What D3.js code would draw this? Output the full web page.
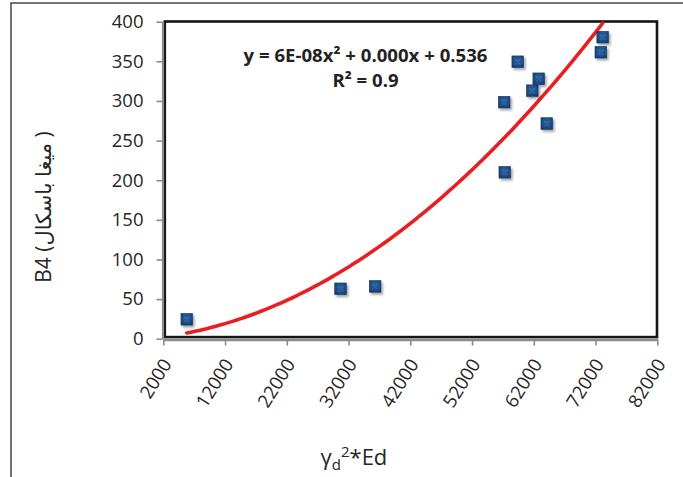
<!DOCTYPE html>
<html>
<head>
<meta charset="utf-8">
<script src="https://cdn.jsdelivr.net/npm/d3@7"></script>
<style>
  html, body { margin: 0; padding: 0; background: #fff; }
  svg { display: block; }
  text { font-family: "Open Sans", "DejaVu Sans", sans-serif; }
</style>
</head>
<body>
<svg id="chart" width="683" height="477"></svg>
<script>
// Measured samples: x = γd²·Ed, y = B4 (MPa)
const xValues = [5800, 30700, 36300, 57200, 57300, 59400, 62800, 61750, 64100, 73150, 72850];
const yValues = [24.5, 63, 66, 298.5, 210, 349.5, 328, 313, 271.5, 380.5, 361.5];

// Axis ticks
const xTicks = [2000, 12000, 22000, 32000, 42000, 52000, 62000, 72000, 82000];
const yTicks = [0, 50, 100, 150, 200, 250, 300, 350, 400];

// Polynomial (order 2) trendline coefficients: y = a·x² + b·x + c
const trendCoeffs = [6.37e-8, 0.000775, 0.536];
const trendLabel = ["y = 6E-08x² + 0.000x + 0.536", "R² = 0.9"];

const xTitle = { base: "γ", sub: "d", sup: "2", rest: "*Ed" };
const yTitle = "B4 (میغا باسکال )";

const svg = d3.select("#chart");
const plot = { left: 162.5, right: 657.3, top: 21.7, bottom: 338.7 };

const x = d3.scaleLinear().domain([2000, 82000]).range([163.3, 657.3]);
const y = d3.scaleLinear().domain([0, 400]).range([plot.bottom, plot.top]);

// outer chart frame
svg.append("rect")
  .attr("x", 11).attr("y", 3)
  .attr("width", 700).attr("height", 500)
  .attr("fill", "#fff").attr("stroke", "#3b3b3b").attr("stroke-width", 1.4);

const defs = svg.append("defs");
const grad = defs.append("radialGradient").attr("id", "mk").attr("cx", "50%").attr("cy", "40%").attr("r", "70%");
grad.append("stop").attr("offset", "0%").attr("stop-color", "#2f659f");
grad.append("stop").attr("offset", "60%").attr("stop-color", "#1d4d86");
grad.append("stop").attr("offset", "100%").attr("stop-color", "#113865");
const shadow = defs.append("filter").attr("id", "shadow").attr("x", "-50%").attr("y", "-50%").attr("width", "200%").attr("height", "200%");
shadow.append("feDropShadow").attr("dx", 1.8).attr("dy", 2.2).attr("stdDeviation", 1.1)
  .attr("flood-color", "#000").attr("flood-opacity", 0.35);
defs.append("clipPath").attr("id", "plotClip").append("rect")
  .attr("x", plot.left).attr("y", plot.top - 1)
  .attr("width", plot.right - plot.left).attr("height", plot.bottom - plot.top + 1);

// plot-area border
svg.append("rect")
  .attr("x", 164.8).attr("y", 21.5)
  .attr("width", 492.2).attr("height", 315.6)
  .attr("fill", "none").attr("stroke", "#141414").attr("stroke-width", 2.6);

// axes
const axisColor = "#8a8a8a";
const yAxis = svg.append("g")
  .attr("transform", `translate(${plot.left},0)`)
  .call(d3.axisLeft(y).tickValues(yTicks).tickSize(6).tickPadding(13).tickSizeOuter(0));
const xAxis = svg.append("g")
  .attr("transform", `translate(0,339.6)`)
  .call(d3.axisBottom(x).tickValues(xTicks).tickSize(6).tickFormat(d3.format("d")).tickSizeOuter(0));

[yAxis, xAxis].forEach(g => {
  g.select(".domain").attr("stroke", axisColor).attr("stroke-width", 2.2);
  g.selectAll(".tick line").attr("stroke", axisColor).attr("stroke-width", 1.6);
  g.selectAll(".tick text").attr("fill", "#262626").style("font-size", "18.5px")
    .style("font-family", "'Open Sans', sans-serif");
});
xAxis.selectAll(".tick text")
  .attr("text-anchor", "end")
  .attr("dy", "0.35em")
  .attr("y", 0)
  .attr("transform", "translate(3,21) rotate(-58)");

// trendline
const [a, b, c] = trendCoeffs;
const [xMin, xMax] = d3.extent(xValues);
const curvePts = d3.range(0, 101).map(i => {
  const xv = xMin + (xMax - xMin) * i / 100;
  return [xv, a * xv * xv + b * xv + c];
});
svg.append("path")
  .datum(curvePts)
  .attr("clip-path", "url(#plotClip)")
  .attr("fill", "none")
  .attr("stroke", "#ea1e22")
  .attr("stroke-width", 3.6)
  .attr("stroke-linecap", "round")
  .attr("d", d3.line().x(d => x(d[0])).y(d => y(d[1])));

// markers
const pts = xValues.map((xv, i) => ({ x: xv, y: yValues[i] }));
const mk = svg.append("g").selectAll("g").data(pts).join("g")
  .attr("transform", d => `translate(${x(d.x)},${y(d.y)})`);
mk.append("rect")
  .attr("x", -5.8).attr("y", -5.8).attr("width", 11.6).attr("height", 11.6)
  .attr("fill", "url(#mk)").attr("stroke", "#123764").attr("stroke-width", 0.6)
  .attr("filter", "url(#shadow)");
mk.append("path")
  .attr("d", "M-2.8,-2.8 L-1,-0.6 M2.8,-2.8 L1,-0.6 M-2.4,2.8 L-0.8,1 M2.4,2.8 L0.8,1")
  .attr("stroke", "#6f97c4").attr("stroke-width", 0.8).attr("opacity", 0.55);

// equation label
const eq = svg.append("text")
  .attr("x", 365.5).attr("y", 61.7)
  .attr("text-anchor", "middle")
  .attr("font-weight", "bold")
  .attr("fill", "#222")
  .style("font-size", "18.6px");
eq.append("tspan").attr("x", 365.5).attr("y", 61.7).text(trendLabel[0]);
eq.append("tspan").attr("x", 365.5).attr("y", 87.3).text(trendLabel[1]);

// x-axis title
const xt = svg.append("text")
  .attr("x", 320.5).attr("y", 465)
  .attr("fill", "#262626")
  .style("font-size", "22px");
xt.append("tspan").text(xTitle.base);
xt.append("tspan").attr("dy", 5).style("font-size", "15px").text(xTitle.sub);
xt.append("tspan").attr("dy", -13).style("font-size", "15px").text(xTitle.sup);
xt.append("tspan").attr("dy", 8).text(xTitle.rest);

// y-axis title
svg.append("text")
  .attr("transform", "translate(51,207) rotate(-90)")
  .attr("text-anchor", "middle")
  .attr("fill", "#262626")
  .style("font-size", "21px")
  .text(yTitle);
</script>
</body>
</html>
